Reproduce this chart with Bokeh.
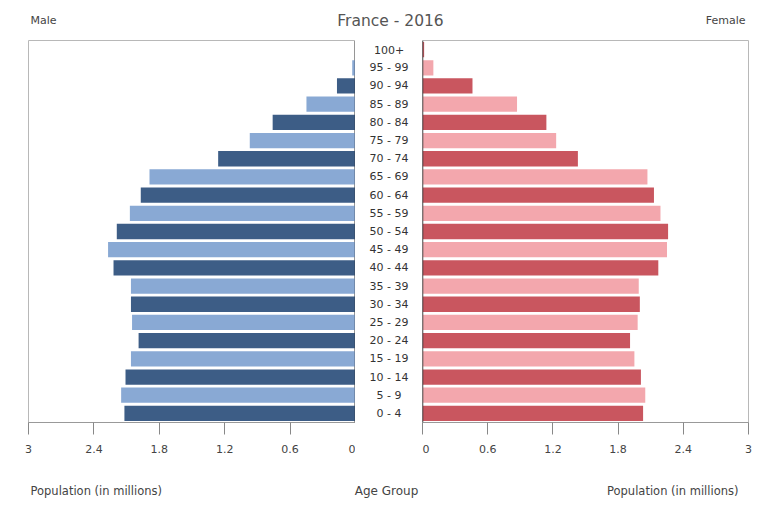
from bokeh.plotting import figure
from bokeh.layouts import column, row
from bokeh.models import Range1d, FactorRange, FixedTicker, NumeralTickFormatter, Span, ColumnDataSource
from bokeh.embed import file_html
from bokeh.resources import INLINE
from bokeh.core.properties import value

# ---- data (millions) ----
age_groups = ["0 - 4", "5 - 9", "10 - 14", "15 - 19", "20 - 24", "25 - 29", "30 - 34",
              "35 - 39", "40 - 44", "45 - 49", "50 - 54", "55 - 59", "60 - 64", "65 - 69",
              "70 - 74", "75 - 79", "80 - 84", "85 - 89", "90 - 94", "95 - 99", "100+"]
male = [2.12, 2.15, 2.11, 2.06, 1.99, 2.05, 2.06, 2.06, 2.22, 2.27, 2.19, 2.07, 1.97, 1.89,
        1.26, 0.97, 0.76, 0.45, 0.17, 0.03, 0.004]
female = [2.03, 2.05, 2.01, 1.95, 1.91, 1.98, 2.00, 1.99, 2.17, 2.25, 2.26, 2.19, 2.13, 2.07,
          1.43, 1.23, 1.14, 0.87, 0.46, 0.10, 0.015]
x_ticks = [0, 0.6, 1.2, 1.8, 2.4, 3]
title_text = "France - 2016"
left_label = "Male"
right_label = "Female"
x_axis_title = "Population (in millions)"
mid_axis_title = "Age Group"

FONT = "DejaVu Sans"
MALE_DARK, MALE_LIGHT = "#3d5d86", "#89a9d4"
FEM_DARK, FEM_LIGHT = "#c9565f", "#f3a7ad"

male_colors = [MALE_DARK if i % 2 == 0 else MALE_LIGHT for i in range(len(age_groups))]
female_colors = [FEM_DARK if i % 2 == 0 else FEM_LIGHT for i in range(len(age_groups))]

src = ColumnDataSource(dict(age=age_groups, male=male, female=female,
                            mc=male_colors, fc=female_colors))

yr = FactorRange(factors=age_groups, range_padding=0)

W = 755
H_TOP, H_MAIN, H_BOT = 40, 427, 42


def blank(w, h):
    f = figure(width=w, height=h, x_range=Range1d(0, w), y_range=Range1d(0, h),
               output_backend="svg", toolbar_location=None,
               x_axis_location=None, y_axis_location=None,
               min_border=0, min_border_left=0, min_border_right=0,
               min_border_top=0, min_border_bottom=0)
    f.grid.visible = False
    f.outline_line_color = None
    return f


# ---- top title strip ----
top = blank(W, H_TOP)
top.text(x=[30], y=[20], text=[left_label], text_font=value(FONT), text_font_size="11px",
         text_color="#444444", text_baseline="middle", text_align="left")
top.text(x=[390], y=[20], text=[title_text], text_font=value(FONT), text_font_size="15.5px",
         text_color="#555555", text_baseline="middle", text_align="center")
top.text(x=[745], y=[20], text=[right_label], text_font=value(FONT), text_font_size="11px",
         text_color="#444444", text_baseline="middle", text_align="right")


def panel(w, xr, col, colors, mbl, mbr):
    f = figure(width=w, height=H_MAIN, x_range=xr, y_range=yr,
               output_backend="svg", toolbar_location=None, y_axis_location=None,
               min_border_left=mbl, min_border_right=mbr, min_border_top=0,
               min_border_bottom=45)
    f.hbar(y="age", left=0, right=col, height=0.84, source=src,
           fill_color=colors, line_color=None)
    f.grid.visible = False
    f.outline_line_color = "#b8b8b8"
    f.add_layout(Span(location=0, dimension="height", line_color="#333333", line_width=1.5))
    ax = f.xaxis[0]
    ax.ticker = FixedTicker(ticks=x_ticks)
    ax.formatter = NumeralTickFormatter(format="0.[0]")
    ax.axis_line_color = "#999999"
    ax.major_tick_line_color = "#888888"
    ax.major_tick_out = 12
    ax.major_tick_in = 0
    ax.minor_tick_line_color = None
    ax.major_label_standoff = 10
    ax.major_label_text_font = FONT
    ax.major_label_text_font_size = "11px"
    ax.major_label_text_color = "#444444"
    return f


left = panel(355, Range1d(3, 0), "male", "mc", 28, 0)
right = panel(333, Range1d(0, 3), "female", "fc", 0, 7)

mid = figure(width=67, height=H_MAIN, x_range=Range1d(0, 1), y_range=yr,
             output_backend="svg", toolbar_location=None,
             x_axis_location=None, y_axis_location=None,
             min_border_left=0, min_border_right=0, min_border_top=0, min_border_bottom=45)
mid.grid.visible = False
mid.outline_line_color = None
mid.text(x=0.5, y="age", text="age", source=src, text_font=value(FONT),
         text_font_size="11px", text_color="#333333", text_align="center",
         text_baseline="middle")

# ---- bottom axis titles ----
bot = blank(W, H_BOT)
bot.text(x=[30], y=[19], text=[x_axis_title], text_font=value(FONT), text_font_size="11.5px",
         text_color="#444444", text_baseline="middle", text_align="left")
bot.text(x=[386], y=[19], text=[mid_axis_title], text_font=value(FONT), text_font_size="12px",
         text_color="#444444", text_baseline="middle", text_align="center")
bot.text(x=[738], y=[19], text=[x_axis_title], text_font=value(FONT), text_font_size="11.5px",
         text_color="#444444", text_baseline="middle", text_align="right")

p = column(top, row(left, mid, right, spacing=0), bot, spacing=0)

open("out.html", "w").write(file_html(p, INLINE))
